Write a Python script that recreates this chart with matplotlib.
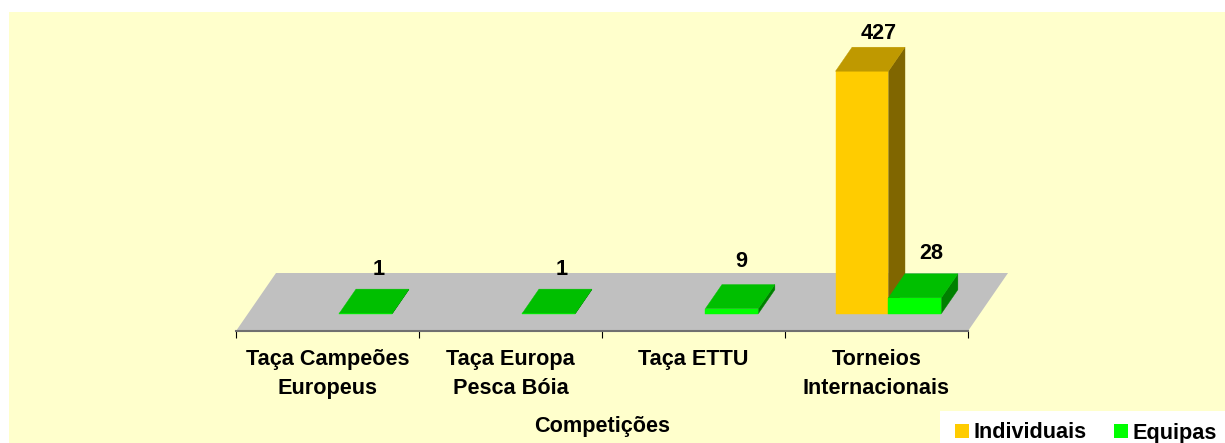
import matplotlib
matplotlib.use('Agg')
import matplotlib.pyplot as plt
from matplotlib.patches import Polygon, Patch, Rectangle
import numpy as np

categories = ['Taça Campeões\nEuropeus', 'Taça Europa\nPesca Bóia', 'Taça ETTU', 'Torneios\nInternacionais']
individuais = [0, 0, 0, 427]
equipas = [1, 1, 9, 28]

plt.rcParams['font.family'] = ['Liberation Sans', 'DejaVu Sans']
plt.rcParams['font.weight'] = 'bold'

W, H = 1225, 443
BAR_W = 0.289
PX_PER_UNIT = 242.5 / 427
# floor depth, in data units (40 px across, 58 px up)
DEPTH_X = 40 / 183
DEPTH_Y = 58 / PX_PER_UNIT
FRONT, BACK = 17.3 / 58, 41.3 / 58

# label nudges for the Equipas values, in points
equipas_nudge = [(-2.9, 10.1), (-2.9, 10.1), (-5.0, 13.0), (0, 10.8)]


def project(x, v, d):
    return x + d * DEPTH_X, v + d * DEPTH_Y


def draw_bar(ax, left, value, face, top, side, nudge):
    if value == 0:
        return
    right = left + BAR_W
    corners = {
        'front': [project(left, 0, FRONT), project(right, 0, FRONT), project(right, value, FRONT), project(left, value, FRONT)],
        'top': [project(left, value, FRONT), project(right, value, FRONT), project(right, value, BACK), project(left, value, BACK)],
        'side': [project(right, 0, FRONT), project(right, 0, BACK), project(right, value, BACK), project(right, value, FRONT)],
    }
    ax.add_patch(Polygon(corners['side'], facecolor=side, edgecolor=side, lw=0.3, clip_on=False))
    ax.add_patch(Polygon(corners['front'], facecolor=face, edgecolor=face, lw=0.3, clip_on=False))
    ax.add_patch(Polygon(corners['top'], facecolor=top, edgecolor=top, lw=0.3, clip_on=False))
    x, y = project(left + BAR_W / 2, value, BACK)
    ax.annotate(str(value), (x, y), xytext=nudge, textcoords='offset points', ha='center', va='baseline',
                fontsize=15.6, fontweight='bold', color='black', annotation_clip=False)


fig = plt.figure(figsize=(W / 100, H / 100), dpi=100, facecolor='white')
fig.add_artist(Rectangle((9 / W, 0), 1 - 9 / W, 1 - 12 / H, transform=fig.transFigure, facecolor='#FFFFCC',
                         edgecolor='none', zorder=-2))
fig.add_artist(Rectangle((940 / W, 0), 285 / W, 32 / H, transform=fig.transFigure, facecolor='white',
                         edgecolor='none', zorder=-1))

ax = fig.add_axes([236 / W, (H - 331) / H, 732 / W, 319 / H])
ax.patch.set_visible(False)
ax.set_xlim(0, len(categories))
ax.set_ylim(0, 319 / PX_PER_UNIT)

# grey floor
n = len(categories)
ax.add_patch(Polygon([project(0, 0, 0), project(n, 0, 0), project(n, 0, 1), project(0, 0, 1)],
                     facecolor='#C0C0C0', edgecolor='none', clip_on=False))

for i in range(n):
    center = i + 0.5
    # the tallest label sits closer to its bar, there is no room above it
    draw_bar(ax, center - BAR_W, individuais[i], '#FFCC00', '#BF9900', '#806600', (0, 5.8))
    draw_bar(ax, center, equipas[i], '#00FF00', '#00BF00', '#008000', equipas_nudge[i])

for name in ['top', 'left', 'right']:
    ax.spines[name].set_visible(False)
ax.spines['bottom'].set_color('#707070')
ax.spines['bottom'].set_linewidth(1.5)
ax.set_yticks([])
ax.set_xticks(np.arange(n + 1), labels=[''] * (n + 1))
ax.tick_params(axis='x', which='major', length=5, width=0.8, color='black')
ax.set_xticks(np.arange(n) + 0.5, labels=categories, minor=True)
ax.tick_params(axis='x', which='minor', length=0, pad=13, labelsize=15.6)
for label in ax.get_xticklabels(minor=True):
    label.set_linespacing(1.5)
    label.set_fontweight('bold')
    label.set_va('top')
ax.set_xlabel('Competições', fontsize=15.6, fontweight='bold')
ax.xaxis.set_label_coords(0.5, -0.268)

handles = [Patch(facecolor='#FFCC00', label='Individuais'), Patch(facecolor='#00FF00', label='Equipas')]
fig.legend(handles=handles, loc='lower right', bbox_to_anchor=(1 - 1.5 / W, -7 / H), ncol=2, frameon=False,
           borderaxespad=0, handlelength=0.65, handleheight=0.65, handletextpad=0.23, columnspacing=1.24,
           borderpad=0.3, prop={'weight': 'bold', 'size': 15.6})

fig.savefig('out.png', dpi=100)
